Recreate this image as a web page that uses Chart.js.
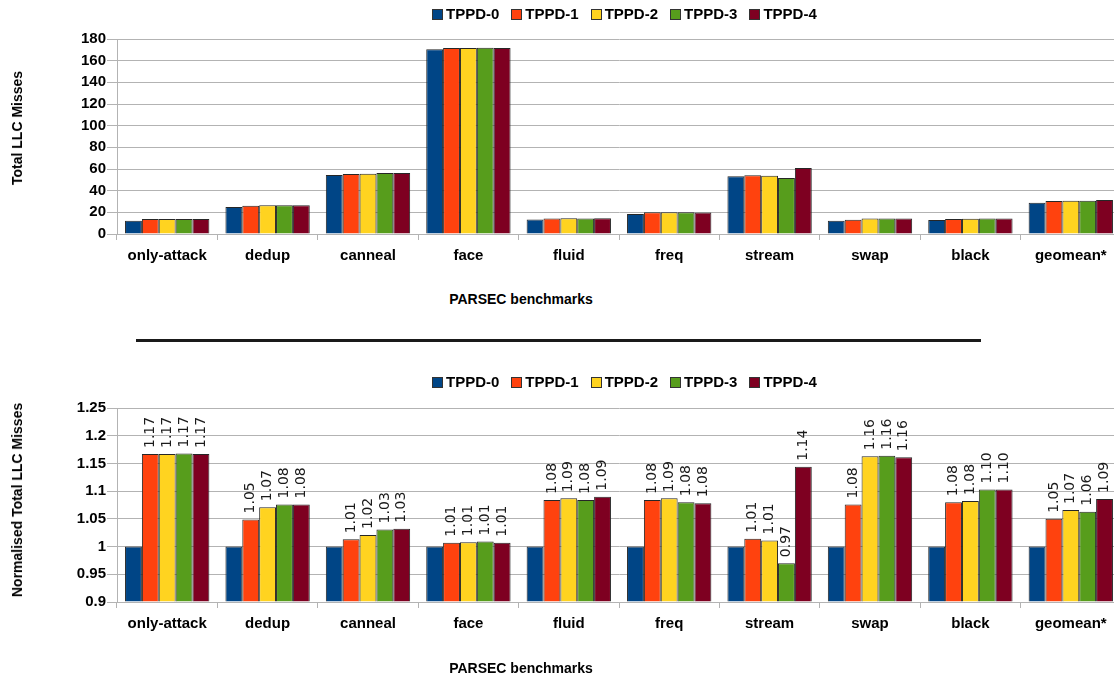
<!DOCTYPE html>
<html>
<head>
<meta charset="utf-8">
<title>LLC misses - PARSEC benchmarks</title>
<script src="https://cdn.jsdelivr.net/npm/chart.js@4.4.1/dist/chart.umd.min.js"></script>
<style>
  html, body { margin: 0; padding: 0; background: #fff; }
  body { width: 1114px; height: 677px; overflow: hidden; position: relative; font-family: "Liberation Sans", Arial, sans-serif; color: #000; }
  .chart-wrap { position: absolute; left: 0; width: 1122px; }
  .legend { position: absolute; left: 432px; display: flex; align-items: center; font-weight: bold; font-size: 15px; line-height: 18px; white-space: nowrap; }
  .legend-item { display: flex; align-items: center; margin-right: 12px; }
  .legend-box { width: 9px; height: 9px; border: 1px solid #333; margin-right: 3px; }
  .axis-title { position: absolute; font-weight: bold; font-size: 14px; line-height: 16px; white-space: nowrap; }
  .x-title { transform: translate(-50%, -50%); }
  .y-title { transform: translate(-50%, -50%) rotate(-90deg); }
  .separator { position: absolute; left: 136px; top: 339px; width: 845px; height: 3px; background: #1a1a1a; }
</style>
</head>
<body>

<div class="chart-wrap" id="wrap-top" style="top:0; height:290px;"><canvas id="totalChart"></canvas></div>
<div class="legend" id="legend-top" style="top:5px;"></div>
<div class="axis-title y-title" style="left:17px; top:128px;">Total LLC Misses</div>
<div class="axis-title x-title" style="left:521px; top:299px;">PARSEC benchmarks</div>

<div class="separator"></div>

<div class="chart-wrap" id="wrap-bottom" style="top:350px; height:327px;"><canvas id="normChart"></canvas></div>
<div class="legend" id="legend-bottom" style="top:373px;"></div>
<div class="axis-title y-title" style="left:17px; top:500px;">Normalised Total LLC Misses</div>
<div class="axis-title x-title" style="left:521px; top:668px;">PARSEC benchmarks</div>

<script>
const benchmarks = ["only-attack", "dedup", "canneal", "face", "fluid", "freq", "stream", "swap", "black", "geomean*"];
const seriesNames = ["TPPD-0", "TPPD-1", "TPPD-2", "TPPD-3", "TPPD-4"];
const seriesColors = ["#004586", "#ff420e", "#ffd320", "#579d1c", "#7e0021"];

// total LLC misses (top chart)
const totalTPPD0 = [12.3, 24.9, 54.5, 170.5, 13.3, 18.5, 53.2, 12.3, 12.9, 28.9];
const totalTPPD1 = [13.8, 26.1, 55.3, 171.7, 14.4, 20.1, 54.2, 13.2, 13.9, 30.4];
const totalTPPD2 = [13.8, 26.5, 55.6, 171.7, 14.5, 20.1, 53.8, 14.2, 14.0, 30.8];
const totalTPPD3 = [13.8, 26.6, 56.2, 171.9, 14.4, 20.0, 51.7, 14.2, 14.2, 30.7];
const totalTPPD4 = [13.8, 26.6, 56.4, 171.7, 14.5, 19.9, 60.9, 14.2, 14.2, 31.4];

// normalised to TPPD-0 (bottom chart)
const normTPPD0 = [1, 1, 1, 1, 1, 1, 1, 1, 1, 1];
const normTPPD1 = [1.167, 1.049, 1.013, 1.007, 1.084, 1.084, 1.014, 1.076, 1.080, 1.050];
const normTPPD2 = [1.167, 1.071, 1.021, 1.008, 1.087, 1.087, 1.011, 1.163, 1.082, 1.066];
const normTPPD3 = [1.168, 1.076, 1.031, 1.009, 1.084, 1.080, 0.970, 1.164, 1.103, 1.063];
const normTPPD4 = [1.167, 1.076, 1.032, 1.007, 1.090, 1.078, 1.144, 1.161, 1.103, 1.086];

const totalTicks = { min: 0, max: 180, step: 20 };
const normTicks = { min: 0.9, max: 1.25, step: 0.05 };

const GRID = "#b3b3b3";
const BOLD15 = { family: "'Liberation Sans', Arial, sans-serif", size: 15, weight: "bold" };

function buildLegend(id) {
  const el = document.getElementById(id);
  el.innerHTML = seriesNames.map((n, i) => `
    <span class="legend-item"><span class="legend-box" style="background:${seriesColors[i]}"></span>${n}</span>
  `).join("");
}

function makeDatasets(series, base) {
  return series.map((data, i) => ({
    label: seriesNames[i],
    data,
    base,
    backgroundColor: seriesColors[i],
    borderColor: "#262626",
    borderWidth: 1,
    categoryPercentage: 0.84,
    barPercentage: 1.0,
  }));
}

// rotated value labels above the bars (TPPD-0 is the baseline, no label)
const barValueLabels = {
  id: "barValueLabels",
  afterDatasetsDraw(chart) {
    const ctx = chart.ctx;
    ctx.save();
    ctx.font = "14px 'DejaVu Sans', sans-serif";
    ctx.fillStyle = "#1a1a1a";
    ctx.textAlign = "left";
    ctx.textBaseline = "middle";
    chart.data.datasets.forEach((ds, i) => {
      if (i === 0) return;
      chart.getDatasetMeta(i).data.forEach((bar, j) => {
        ctx.save();
        ctx.translate(bar.x, bar.y - 6);
        ctx.rotate(-Math.PI / 2);
        ctx.fillText(ds.data[j].toFixed(2), 0, 0);
        ctx.restore();
      });
    });
    ctx.restore();
  }
};

function chartOptions(ticks, areaTop, areaBottom, wrapHeight, fmt) {
  return {
    responsive: true,
    maintainAspectRatio: false,
    animation: false,
    layout: { padding: { top: areaTop, left: 0, right: 1, bottom: 0 } },
    plugins: { legend: { display: false }, tooltip: { enabled: false } },
    scales: {
      x: {
        grid: { color: GRID, drawOnChartArea: false, drawTicks: true, tickLength: 6, offset: true },
        border: { color: GRID },
        ticks: { color: "#000", font: BOLD15, padding: 7, maxRotation: 0, autoSkip: false },
        afterFit: s => { s.height = wrapHeight - areaBottom; },
      },
      y: {
        min: ticks.min,
        max: ticks.max,
        grid: { color: GRID, tickLength: 10 },
        border: { color: GRID },
        ticks: { stepSize: ticks.step, color: "#000", font: BOLD15, padding: 1, callback: fmt },
        afterFit: s => { s.width = 117; },
      }
    }
  };
}

function renderTotalChart() {
  const ctx = document.getElementById("totalChart").getContext("2d");
  new Chart(ctx, {
    type: "bar",
    data: {
      labels: benchmarks,
      datasets: makeDatasets([totalTPPD0, totalTPPD1, totalTPPD2, totalTPPD3, totalTPPD4], 0)
    },
    options: chartOptions(totalTicks, 39, 234, 290, v => v)
  });
}

function renderNormChart() {
  const ctx = document.getElementById("normChart").getContext("2d");
  new Chart(ctx, {
    type: "bar",
    data: {
      labels: benchmarks,
      datasets: makeDatasets([normTPPD0, normTPPD1, normTPPD2, normTPPD3, normTPPD4], normTicks.min)
    },
    options: chartOptions(normTicks, 58, 252, 327, v => String(+v.toFixed(2))),
    plugins: [barValueLabels]
  });
}

buildLegend("legend-top");
buildLegend("legend-bottom");
renderTotalChart();
renderNormChart();
</script>
</body>
</html>
